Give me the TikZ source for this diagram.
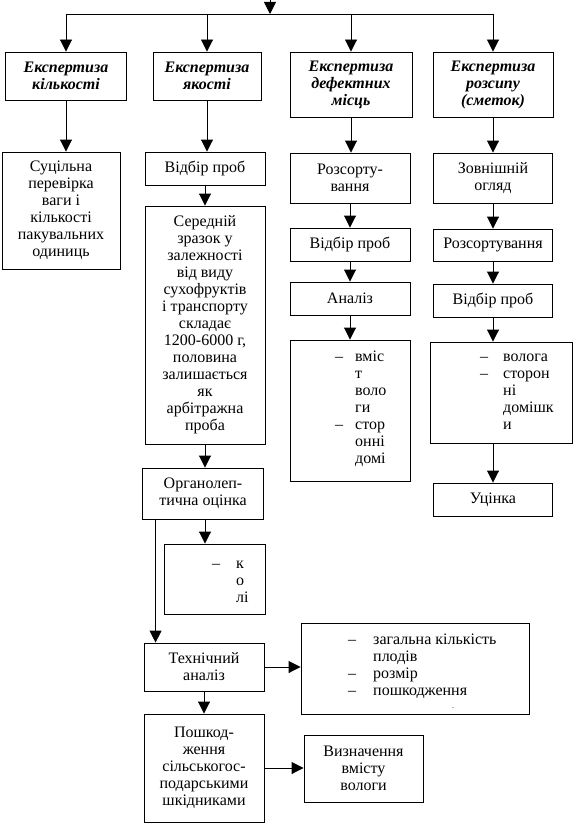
\documentclass[tikz,border=0pt]{standalone}
\usepackage{fontspec}
\setmainfont{Liberation Serif}
\usetikzlibrary{arrows.meta}
\begin{document}
\begin{tikzpicture}[x=1pt, y=-1pt,
	box/.style={draw, line width=0.9pt, inner sep=0pt, align=center, font=\fontsize{16}{17}\selectfont},
	head/.style={box, font=\fontsize{16}{17}\selectfont\bfseries\itshape},
	list/.style={inner sep=0pt, anchor=north west, font=\fontsize{16}{17}\selectfont},
	arr/.style={line width=0.9pt, -{Triangle[width=12pt,length=12pt]}}]
	\useasboundingbox (0,0) rectangle (573,824);
	
	\node[head, minimum width=121pt, minimum height=48pt] (ek) at (66,76) {Експертиза\\кількості};
	\node[head, minimum width=108pt, minimum height=48pt] (ya) at (207,76) {Експертиза\\якості};
	\node[head, minimum width=122pt, minimum height=65pt] (df) at (351,84.5) {Експертиза\\дефектних\\місць};
	\node[head, minimum width=120pt, minimum height=65pt] (rz) at (493,84.5) {Експертиза\\розсипу\\(сметок)};
	
	\coordinate (top) at (270,0);
	\coordinate (bus) at (270,14);
	\draw[arr] (top) -- (bus);
	\draw[line width=0.9pt] (ek |- bus) -- (rz |- bus);
	\draw[arr] (ek |- bus) -- (ek);
	\draw[arr] (ya |- bus) -- (ya);
	\draw[arr] (df |- bus) -- (df);
	\draw[arr] (rz |- bus) -- (rz);
	
	\node[box, minimum width=118pt, minimum height=117pt] (sc) at (61,210.5) {Суцільна\\перевірка\\ваги і\\кількості\\пакувальних\\одиниць};
	\draw[arr] (ek) -- (ek |- sc.north);
	
	\node[box, minimum width=120pt, minimum height=33pt] (vp2) at (205,168.5) {Відбір проб};
	\node[box, minimum width=120pt, minimum height=238pt] (sz) at (205,325) {Середній\\зразок у\\залежності\\від виду\\сухофруктів\\і транспорту\\складає\\1200-6000 г,\\половина\\залишається\\як\\арбітражна\\проба};
	\node[box, minimum width=121pt, minimum height=51pt] (org) at (203,493.5) {Органолеп-\\тична оцінка};
	\node[box, minimum width=101pt, minimum height=70pt] (kl) at (214.5,579) {};
	\node[list] (kltx) at (212,556.7) {\begin{tabular}{@{}p{24pt}@{}l@{}}–&к\\&о\\&лі\end{tabular}};
	\node[box, minimum width=120pt, minimum height=48pt] (th) at (204,667) {Технічний\\аналіз};
	\node[box, minimum width=228pt, minimum height=91pt] (zg) at (415,668.5) {};
	\node[list] (zgtx) at (348,632.7) {\begin{tabular}{@{}p{25pt}@{}l@{}}–&загальна кількість\\&плодів\\–&розмір\\–&пошкодження\end{tabular}};
	\node[inner sep=0pt, anchor=base, font=\fontsize{8}{8}\selectfont] (dot) at (453,708) {.};
	\node[box, minimum width=120pt, minimum height=108pt] (pk) at (204,768) {Пошкод-\\ження\\сільськогос-\\подарськими\\шкідниками};
	\node[box, minimum width=119pt, minimum height=67pt] (vz) at (363.5,768.5) {Визначення\\вмісту\\вологи};
	
	\draw[arr] (ya) -- (ya |- vp2.north);
	\draw[arr] (vp2) -- (sz);
	\draw[arr] (sz) -- (sz |- org.north);
	\draw[arr] (sz |- org.south) -- (sz |- kl.north);
	\draw[arr] ([xshift=13.5pt]org.south west) -- ([xshift=13.5pt]org.south west |- th.north);
	\draw[arr] (th) -- (th -| zg.west);
	\draw[arr] (th) -- (pk);
	\draw[arr] (pk) -- (pk -| vz.west);
	
	\node[box, minimum width=120pt, minimum height=50pt] (rs3) at (350,178) {Розсорту-\\вання};
	\node[box, minimum width=120pt, minimum height=33pt] (vp3) at (350,244.5) {Відбір проб};
	\node[box, minimum width=120pt, minimum height=33pt] (an) at (350,298.5) {Аналіз};
	\node[box, minimum width=120pt, minimum height=141pt] (l3) at (350,410.5) {};
	\node[list] (l3tx) at (335,349.7) {\begin{tabular}{@{}p{20pt}@{}l@{}}–&вміс\\&т\\&воло\\&ги\\–&стор\\&онні\\&домі\end{tabular}};
	\draw[arr] (df) -- (df |- rs3.north);
	\draw[arr] (rs3) -- (vp3);
	\draw[arr] (vp3) -- (an);
	\draw[arr] (an) -- (l3);
	
	\node[box, minimum width=119pt, minimum height=50pt] (zo) at (493,178) {Зовнішній\\огляд};
	\node[box, minimum width=119pt, minimum height=32pt] (rs4) at (493,245) {Розсортування};
	\node[box, minimum width=119pt, minimum height=33pt] (vp4) at (493,300.5) {Відбір проб};
	\node[box, minimum width=142pt, minimum height=101pt] (l4) at (501,392.5) {};
	\node[list] (l4tx) at (480,349.7) {\begin{tabular}{@{}p{23pt}@{}l@{}}–&волога\\–&сторон\\&ні\\&домішк\\&и\end{tabular}};
	\node[box, minimum width=119pt, minimum height=33pt] (uc) at (493,499.5) {Уцінка};
	\draw[arr] (rz) -- (rz |- zo.north);
	\draw[arr] (zo) -- (rs4);
	\draw[arr] (rs4) -- (vp4);
	\draw[arr] (vp4) -- (vp4 |- l4.north);
	\draw[arr] (l4.south -| uc) -- (uc);
\end{tikzpicture}
\end{document}
